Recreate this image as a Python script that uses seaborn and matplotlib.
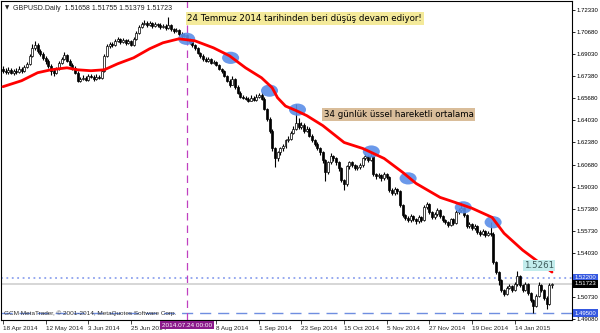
import matplotlib
matplotlib.use("Agg")
import matplotlib.pyplot as plt
from matplotlib.patches import Ellipse
import seaborn as sns
import numpy as np

sns.set_style("white")
plt.rcParams['font.family'] = ['Liberation Sans', 'DejaVu Sans']

# ---------------- data (GBPUSD daily) ----------------
opens = [1.6790, 1.6776, 1.6768, 1.6783, 1.6761, 1.6776, 1.6768, 1.6791, 1.6776, 1.6806,
         1.6828, 1.6888, 1.6948, 1.6971, 1.6926, 1.6903, 1.6873, 1.6851, 1.6813, 1.6776,
         1.6761, 1.6791, 1.6836, 1.6866, 1.6896, 1.6851, 1.6821, 1.6798, 1.6761, 1.6701,
         1.6716, 1.6723, 1.6708, 1.6738, 1.6731, 1.6716, 1.6731, 1.6723, 1.6776, 1.6888,
         1.6963, 1.6978, 1.6971, 1.7001, 1.7016, 1.6993, 1.7008, 1.6986, 1.7001, 1.6971,
         1.7016, 1.7061, 1.7106, 1.7128, 1.7136, 1.7121, 1.7136, 1.7113, 1.7128, 1.7121,
         1.7106, 1.7113, 1.7098, 1.7121, 1.7091, 1.7076, 1.7083, 1.7053, 1.7038, 1.7046,
         1.7016, 1.6993, 1.6971, 1.6948, 1.6911, 1.6888, 1.6866, 1.6851, 1.6866, 1.6836,
         1.6843, 1.6821, 1.6791, 1.6776, 1.6738, 1.6701, 1.6671, 1.6716, 1.6656, 1.6611,
         1.6581, 1.6573, 1.6566, 1.6551, 1.6573, 1.6558, 1.6581, 1.6596, 1.6566, 1.6491,
         1.6416, 1.6326, 1.6191, 1.6116, 1.6161, 1.6191, 1.6206, 1.6251, 1.6266, 1.6311,
         1.6341, 1.6386, 1.6356, 1.6371, 1.6326, 1.6341, 1.6288, 1.6251, 1.6228, 1.6191,
         1.6161, 1.6101, 1.6011, 1.6086, 1.6131, 1.6116, 1.6086, 1.6041, 1.5951, 1.5921,
         1.6056, 1.6086, 1.6063, 1.6041, 1.6048, 1.6063, 1.6116, 1.6131, 1.6101, 1.6131,
         1.5996, 1.5981, 1.5988, 1.5966, 1.5996, 1.5973, 1.5876, 1.5853, 1.5883, 1.5868,
         1.5763, 1.5688, 1.5666, 1.5651, 1.5681, 1.5658, 1.5643, 1.5673, 1.5651, 1.5748,
         1.5771, 1.5711, 1.5673, 1.5696, 1.5726, 1.5681, 1.5651, 1.5636, 1.5613, 1.5658,
         1.5628, 1.5711, 1.5726, 1.5741, 1.5688, 1.5606, 1.5621, 1.5591, 1.5606, 1.5561,
         1.5546, 1.5568, 1.5538, 1.5553, 1.5546, 1.5336, 1.5261, 1.5201, 1.5126, 1.5096,
         1.5141, 1.5156, 1.5126, 1.5171, 1.5231, 1.5163, 1.5126, 1.5171, 1.5103, 1.5051,
         1.5006, 1.5081, 1.5163, 1.5126, 1.5066, 1.5021, 1.51658]

highs = [1.6812, 1.6795, 1.6801, 1.6797, 1.6790, 1.6799, 1.6808, 1.6803, 1.6821, 1.6845,
         1.6902, 1.6975, 1.6996, 1.6985, 1.6940, 1.6918, 1.6885, 1.6866, 1.6825, 1.6790,
         1.6805, 1.6850, 1.6880, 1.6915, 1.6905, 1.6866, 1.6835, 1.6810, 1.6772, 1.6730,
         1.6740, 1.6735, 1.6752, 1.6755, 1.6745, 1.6748, 1.6742, 1.6790, 1.6900, 1.6975,
         1.6995, 1.6990, 1.7015, 1.7030, 1.7025, 1.7022, 1.7015, 1.7012, 1.7010, 1.7028,
         1.7075, 1.7120, 1.7142, 1.7155, 1.7148, 1.7150, 1.7145, 1.7140, 1.7138, 1.7132,
         1.7130, 1.7125, 1.7178, 1.7130, 1.7100, 1.7098, 1.7092, 1.7065, 1.7060, 1.7055,
         1.7025, 1.7002, 1.6980, 1.6958, 1.6920, 1.6898, 1.6878, 1.6880, 1.6872, 1.6858,
         1.6852, 1.6830, 1.6800, 1.6785, 1.6745, 1.6712, 1.6738, 1.6722, 1.6665, 1.6620,
         1.6595, 1.6588, 1.6578, 1.6590, 1.6585, 1.6598, 1.6610, 1.6615, 1.6575, 1.6498,
         1.6425, 1.6335, 1.6200, 1.6175, 1.6205, 1.6225, 1.6265, 1.6285, 1.6325, 1.6360,
         1.6525, 1.6420, 1.6390, 1.6385, 1.6360, 1.6350, 1.6300, 1.6262, 1.6240, 1.6200,
         1.6170, 1.6110, 1.6098, 1.6160, 1.6145, 1.6125, 1.6095, 1.6050, 1.5962, 1.6070,
         1.6100, 1.6098, 1.6075, 1.6065, 1.6080, 1.6130, 1.6148, 1.6140, 1.6160, 1.6140,
         1.6010, 1.6005, 1.6000, 1.6012, 1.6008, 1.5985, 1.5890, 1.5898, 1.5895, 1.5875,
         1.5772, 1.5700, 1.5680, 1.5695, 1.5692, 1.5670, 1.5688, 1.5685, 1.5762, 1.5790,
         1.5780, 1.5722, 1.5710, 1.5740, 1.5735, 1.5690, 1.5662, 1.5648, 1.5670, 1.5668,
         1.5725, 1.5742, 1.5785, 1.5752, 1.5698, 1.5638, 1.5632, 1.5620, 1.5615, 1.5575,
         1.5585, 1.5578, 1.5570, 1.5640, 1.5560, 1.5345, 1.5270, 1.5212, 1.5135, 1.5155,
         1.5172, 1.5165, 1.5185, 1.5268, 1.5240, 1.5175, 1.5185, 1.5180, 1.5112, 1.5060,
         1.5095, 1.5185, 1.5172, 1.5135, 1.5078, 1.5178, 1.51755]

lows = [1.6762, 1.6750, 1.6755, 1.6748, 1.6745, 1.6752, 1.6760, 1.6761, 1.6768, 1.6795,
        1.6820, 1.6880, 1.6935, 1.6912, 1.6890, 1.6855, 1.6830, 1.6800, 1.6745, 1.6735,
        1.6752, 1.6782, 1.6825, 1.6855, 1.6840, 1.6808, 1.6785, 1.6748, 1.6690, 1.6693,
        1.6705, 1.6695, 1.6700, 1.6718, 1.6702, 1.6705, 1.6710, 1.6715, 1.6770, 1.6880,
        1.6950, 1.6955, 1.6962, 1.6990, 1.6980, 1.6985, 1.6970, 1.6975, 1.6960, 1.6965,
        1.7010, 1.7055, 1.7098, 1.7118, 1.7108, 1.7110, 1.7100, 1.7102, 1.7108, 1.7092,
        1.7095, 1.7085, 1.7090, 1.7078, 1.7062, 1.7065, 1.7040, 1.7025, 1.7028, 1.7005,
        1.6980, 1.6958, 1.6935, 1.6900, 1.6872, 1.6850, 1.6838, 1.6842, 1.6825, 1.6826,
        1.6808, 1.6778, 1.6760, 1.6725, 1.6688, 1.6655, 1.6665, 1.6642, 1.6598, 1.6570,
        1.6562, 1.6555, 1.6538, 1.6545, 1.6548, 1.6550, 1.6570, 1.6555, 1.6478, 1.6400,
        1.6310, 1.6175, 1.6052, 1.6095, 1.6145, 1.6175, 1.6195, 1.6238, 1.6255, 1.6298,
        1.6330, 1.6340, 1.6335, 1.6310, 1.6315, 1.6275, 1.6238, 1.6210, 1.6178, 1.6145,
        1.6085, 1.5950, 1.6000, 1.6075, 1.6100, 1.6070, 1.6025, 1.5935, 1.5875, 1.5910,
        1.6040, 1.6050, 1.6028, 1.6030, 1.6035, 1.6055, 1.6105, 1.6088, 1.6095, 1.5985,
        1.5965, 1.5970, 1.5950, 1.5955, 1.5960, 1.5862, 1.5838, 1.5842, 1.5852, 1.5748,
        1.5672, 1.5650, 1.5635, 1.5640, 1.5645, 1.5625, 1.5630, 1.5638, 1.5642, 1.5735,
        1.5698, 1.5660, 1.5662, 1.5685, 1.5668, 1.5638, 1.5620, 1.5598, 1.5605, 1.5615,
        1.5620, 1.5700, 1.5715, 1.5675, 1.5590, 1.5595, 1.5578, 1.5580, 1.5548, 1.5532,
        1.5538, 1.5525, 1.5530, 1.5535, 1.5325, 1.5250, 1.5165, 1.5110, 1.5080, 1.5088,
        1.5130, 1.5112, 1.5118, 1.5160, 1.5150, 1.5110, 1.5115, 1.5085, 1.5035, 1.4952,
        1.4995, 1.5070, 1.5110, 1.5050, 1.4985, 1.5010, 1.51379]

closes = [1.6776, 1.6768, 1.6783, 1.6761, 1.6776, 1.6768, 1.6791, 1.6776, 1.6806, 1.6828,
          1.6888, 1.6948, 1.6971, 1.6926, 1.6903, 1.6873, 1.6851, 1.6813, 1.6776, 1.6761,
          1.6791, 1.6836, 1.6866, 1.6896, 1.6851, 1.6821, 1.6798, 1.6761, 1.6701, 1.6716,
          1.6723, 1.6708, 1.6738, 1.6731, 1.6716, 1.6731, 1.6723, 1.6776, 1.6888, 1.6963,
          1.6978, 1.6971, 1.7001, 1.7016, 1.6993, 1.7008, 1.6986, 1.7001, 1.6971, 1.7016,
          1.7061, 1.7106, 1.7128, 1.7136, 1.7121, 1.7136, 1.7113, 1.7128, 1.7121, 1.7106,
          1.7113, 1.7098, 1.7121, 1.7091, 1.7076, 1.7083, 1.7053, 1.7038, 1.7046, 1.7016,
          1.6993, 1.6971, 1.6948, 1.6911, 1.6888, 1.6866, 1.6851, 1.6866, 1.6836, 1.6843,
          1.6821, 1.6791, 1.6776, 1.6738, 1.6701, 1.6671, 1.6716, 1.6656, 1.6611, 1.6581,
          1.6573, 1.6566, 1.6551, 1.6573, 1.6558, 1.6581, 1.6596, 1.6566, 1.6491, 1.6416,
          1.6326, 1.6191, 1.6116, 1.6161, 1.6191, 1.6206, 1.6251, 1.6266, 1.6311, 1.6341,
          1.6386, 1.6356, 1.6371, 1.6326, 1.6341, 1.6288, 1.6251, 1.6228, 1.6191, 1.6161,
          1.6101, 1.6011, 1.6086, 1.6131, 1.6116, 1.6086, 1.6041, 1.5951, 1.5921, 1.6056,
          1.6086, 1.6063, 1.6041, 1.6048, 1.6063, 1.6116, 1.6131, 1.6101, 1.6131, 1.5996,
          1.5981, 1.5988, 1.5966, 1.5996, 1.5973, 1.5876, 1.5853, 1.5883, 1.5868, 1.5763,
          1.5688, 1.5666, 1.5651, 1.5681, 1.5658, 1.5643, 1.5673, 1.5651, 1.5748, 1.5771,
          1.5711, 1.5673, 1.5696, 1.5726, 1.5681, 1.5651, 1.5636, 1.5613, 1.5658, 1.5628,
          1.5711, 1.5726, 1.5741, 1.5688, 1.5606, 1.5621, 1.5591, 1.5606, 1.5561, 1.5546,
          1.5568, 1.5538, 1.5553, 1.5546, 1.5336, 1.5261, 1.5201, 1.5126, 1.5096, 1.5141,
          1.5156, 1.5126, 1.5171, 1.5231, 1.5163, 1.5126, 1.5171, 1.5103, 1.5051, 1.5006,
          1.5081, 1.5163, 1.5126, 1.5066, 1.5021, 1.5166, 1.51723]

# 34-day EMA (bar index, price)
ema_idx = [0, 7, 13, 18, 24, 28, 33, 38, 43, 49, 55, 60, 66, 72, 79, 85, 91, 97, 101,
           103, 106, 110, 114, 120, 128, 135, 143, 150, 155, 164, 168.5, 176, 183.5,
           188, 195, 201, 206]
ema_vals = [1.6656, 1.6701, 1.6761, 1.6783, 1.6798, 1.6783, 1.6776, 1.6783, 1.6828,
            1.6873, 1.6941, 1.6986, 1.7016, 1.7001, 1.6948, 1.6888, 1.6798, 1.6723,
            1.6648, 1.6573, 1.6510, 1.6476, 1.6438, 1.6363, 1.6236, 1.6191, 1.6116,
            1.6011, 1.5928, 1.5823, 1.5793, 1.5741, 1.5673, 1.5553, 1.5426, 1.5336,
            1.5261]

# blue markers where price touched the EMA
marker_idx = [68.9, 85.4, 100.0, 110.5, 138.2, 152.0, 172.7, 183.9]
marker_price = [1.7016, 1.6873, 1.6626, 1.6483, 1.6168, 1.5966, 1.5748, 1.5636]

x_tick_idx = [0, 16, 32, 48, 80, 96, 112, 128, 144, 160, 176, 192]
x_tick_labels = ['18 Apr 2014', '12 May 2014', '3 Jun 2014', '25 Jun 2014', '8 Aug 2014',
                 '1 Sep 2014', '23 Sep 2014', '15 Oct 2014', '5 Nov 2014', '27 Nov 2014',
                 '19 Dec 2014', '14 Jan 2015']
y_ticks = [1.72330, 1.70680, 1.69030, 1.67380, 1.65680, 1.64030, 1.62380, 1.60680,
           1.59030, 1.57380, 1.55730, 1.54030, 1.50730, 1.49080]

vline_idx = 69
vline_label = '2014.07.24 00:00'
level_dotted = 1.52200
level_bid = 1.51723
level_dashed = 1.49500
ema_last_label = '1.5261'

SMALL = 4.6
YSMALL = 4.3

# ---------------- figure ----------------
fig = plt.figure(figsize=(6, 3.33), dpi=100)
ax = fig.add_axes([1 / 600, 13 / 333, 571 / 600, 319 / 333])

n = min(len(opens), len(highs), len(lows), len(closes))
idx = np.arange(n)
o = np.array(opens[:n]); h = np.array(highs[:n]); l = np.array(lows[:n]); c = np.array(closes[:n])

# horizontal levels
ax.axhline(level_bid, color='#d0d0d0', lw=1.2, zorder=1)
ax.axhline(level_dotted, color='#8ea2ee', lw=1.3, ls=(0, (1, 2)), zorder=1)
ax.axhline(level_dashed, color='#6f8ee0', lw=1.0, ls=(0, (8, 5)), zorder=1)
ax.axvline(vline_idx, color='#c040c0', lw=0.9, ls=(0, (6, 4)), zorder=1)

# candles
ax.vlines(idx, l, h, color='black', lw=0.8, zorder=2)
up = c >= o
bottoms = np.minimum(o, c)
heights = np.maximum(np.abs(c - o), 0.0003)
ax.bar(idx, heights, bottom=bottoms, width=0.75,
       color=np.where(up, '#ffffff', '#000000'), edgecolor='black', linewidth=0.5, zorder=3)

# markers
for mx, mp in zip(marker_idx, marker_price):
    ax.add_patch(Ellipse((mx, mp), width=6.4, height=0.0092, facecolor='#5b8ee8',
                         edgecolor='none', alpha=0.9, zorder=4))

# EMA line
sns.lineplot(x=ema_idx, y=ema_vals, color='#ff0000', lw=2.0, ax=ax, zorder=5)

ax.set_xlim(-0.75, 213.5)
ax.set_ylim(1.49005, 1.73005)

for s in ax.spines.values():
    s.set_color('black')
    s.set_linewidth(0.8)

ax.yaxis.tick_right()
ax.set_yticks(y_ticks)
ax.set_yticklabels([f'{v:.5f}' for v in y_ticks])
ax.tick_params(axis='y', right=True, left=False, length=2.5, width=0.6, pad=1.0,
               labelsize=YSMALL, colors='black')
ax.set_xticks(x_tick_idx)
ax.set_xticklabels(x_tick_labels, ha='left')
ax.tick_params(axis='x', bottom=True, length=3, width=0.6, pad=1.5, labelsize=SMALL)
ax.set_xlabel('')
ax.set_ylabel('')

# right-axis boxes
ytr = ax.get_yaxis_transform()
for val, fc in [(level_dotted, '#3558e0'), (level_bid, '#000000'), (level_dashed, '#3558e0')]:
    ax.text(1.005, val, f'{val:.5f}', transform=ytr, ha='left', va='center', fontsize=YSMALL,
            color='white', clip_on=False, zorder=10,
            bbox=dict(boxstyle='square,pad=0.25', fc=fc, ec='none'))

# vertical line date box
xtr = ax.get_xaxis_transform()
ax.text(vline_idx, -0.016, vline_label, transform=xtr, ha='center', va='center', fontsize=SMALL,
        color='white', clip_on=False, zorder=10,
        bbox=dict(boxstyle='square,pad=0.25', fc='#8b1a8b', ec='none'))

# EMA value label
ax.text(195.5, 1.5310, ema_last_label, ha='left', va='center', fontsize=6.2, color='#3d5a5a',
        zorder=6, family=['DejaVu Sans'],
        bbox=dict(boxstyle='square,pad=0.15', fc='#c2ecec', ec='none'))

# annotations
ax.text(69.2, 1.7169, '24 Temmuz 2014 tarihinden beri düşüş devam ediyor!', ha='left',
        va='center', fontsize=6.2, color='black', zorder=6, family=['DejaVu Sans'],
        bbox=dict(boxstyle='square,pad=0.2', fc='#f4ea9a', ec='none'))
ax.text(120.3, 1.6445, '34 günlük üssel hareketli ortalama', ha='left', va='center',
        fontsize=6.2, color='black', zorder=6, family=['DejaVu Sans'],
        bbox=dict(boxstyle='square,pad=0.2', fc='#d9bd9a', ec='none'))

# header and footer
fig.text(5 / 600, 1 - 8 / 333, '▼', fontsize=4, va='center', ha='left', color='#202020',
         family=['DejaVu Sans'])
fig.text(13 / 600, 1 - 8 / 333, 'GBPUSD.Daily  1.51658 1.51755 1.51379 1.51723', fontsize=5,
         va='center', ha='left', color='#202020')
ax.text(0.006, 7 / 319, 'GCM MetaTrader, © 2001-2014, MetaQuotes Software Corp.',
        transform=ax.transAxes, fontsize=SMALL, va='center', ha='left', color='#303030', zorder=6)

fig.savefig('out.png', dpi=100)
